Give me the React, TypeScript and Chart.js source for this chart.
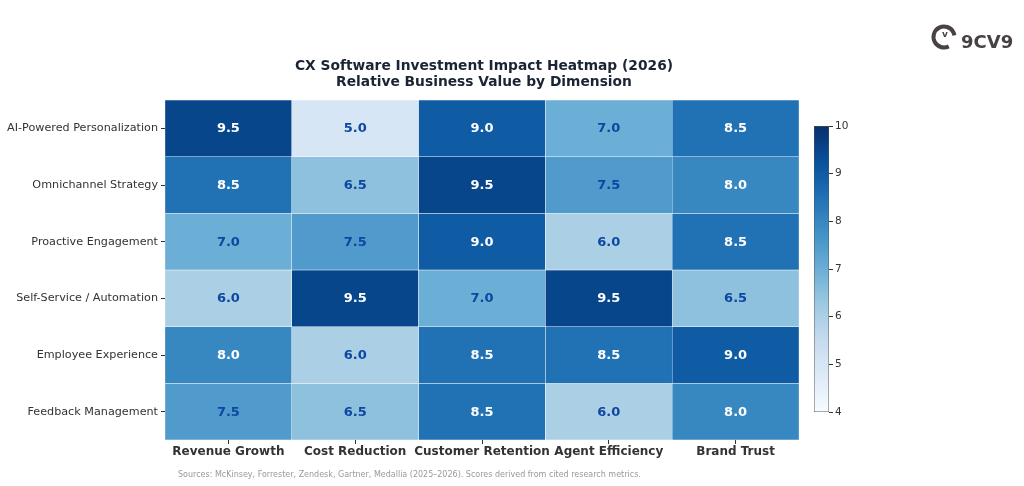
import React, { useEffect, useRef } from "react";
import { Chart, registerables } from "chart.js";

Chart.register(...registerables);

const rowLabels = [
  "AI-Powered Personalization",
  "Omnichannel Strategy",
  "Proactive Engagement",
  "Self-Service / Automation",
  "Employee Experience",
  "Feedback Management",
];
const colLabels = ["Revenue Growth", "Cost Reduction", "Customer Retention", "Agent Efficiency", "Brand Trust"];

const aiPersonalization = [9.5, 5.0, 9.0, 7.0, 8.5];
const omnichannel = [8.5, 6.5, 9.5, 7.5, 8.0];
const proactive = [7.0, 7.5, 9.0, 6.0, 8.5];
const selfService = [6.0, 9.5, 7.0, 9.5, 6.5];
const employeeExp = [8.0, 6.0, 8.5, 8.5, 9.0];
const feedbackMgmt = [7.5, 6.5, 8.5, 6.0, 8.0];
const matrix = [aiPersonalization, omnichannel, proactive, selfService, employeeExp, feedbackMgmt];

const colorbarTicks = [4, 5, 6, 7, 8, 9, 10];
const vMin = 4;
const vMax = 10;

const titleLines = ["CX Software Investment Impact Heatmap (2026)", "Relative Business Value by Dimension"];
const sourceText =
  "Sources: McKinsey, Forrester, Zendesk, Gartner, Medallia (2025–2026). Scores derived from cited research metrics.";

const BLUES = ["#f7fbff", "#deebf7", "#c6dbef", "#9ecae1", "#6baed6", "#4292c6", "#2171b5", "#08519c", "#08306b"];

function hexToRgb(h: string) {
  return [parseInt(h.slice(1, 3), 16), parseInt(h.slice(3, 5), 16), parseInt(h.slice(5, 7), 16)];
}
function blues(t: number) {
  const x = Math.max(0, Math.min(1, t)) * (BLUES.length - 1);
  const i = Math.min(BLUES.length - 2, Math.floor(x));
  const f = x - i;
  const a = hexToRgb(BLUES[i]);
  const b = hexToRgb(BLUES[i + 1]);
  const c = a.map((v, k) => Math.round(v + (b[k] - v) * f));
  return `rgb(${c[0]},${c[1]},${c[2]})`;
}
const colorFor = (v: number) => blues((v - vMin) / (vMax - vMin));

const FONT = "'DejaVu Sans', sans-serif";

const overlayPlugin = {
  id: "overlay",
  afterDatasetsDraw(chart: any) {
    const { ctx, scales } = chart;
    const xs = scales.x;
    const ys = scales.y;
    ctx.save();
    ctx.textAlign = "center";
    ctx.textBaseline = "middle";
    ctx.font = `bold 13px ${FONT}`;
    matrix.forEach((row, r) => {
      row.forEach((v, c) => {
        const x = xs.getPixelForValue(c);
        const y = ys.getPixelForValue(r + 0.5);
        ctx.fillStyle = v >= 8 ? "#ffffff" : "#0d47a1";
        ctx.fillText(v.toFixed(1), x, y + 0.5);
      });
    });
    ctx.restore();
  },
  afterDraw(chart: any) {
    const { ctx } = chart;
    ctx.save();
    ctx.textAlign = "center";
    ctx.textBaseline = "middle";
    ctx.fillStyle = "#1a2433";
    ctx.font = `bold 13.8px ${FONT}`;
    ctx.fillText(titleLines[0], 484, 66.5);
    ctx.fillText(titleLines[1], 484, 82);
    ctx.textAlign = "left";
    ctx.fillStyle = "#999999";
    ctx.font = `8px ${FONT}`;
    ctx.fillText(sourceText, 178, 475);
    // logo
    ctx.strokeStyle = "#4a4242";
    ctx.lineWidth = 4;
    ctx.beginPath();
    ctx.arc(944, 37, 10.5, Math.PI * 0.35, Math.PI * 1.95);
    ctx.stroke();
    ctx.fillStyle = "#4a4242";
    ctx.font = `bold 9px ${FONT}`;
    ctx.textAlign = "center";
    ctx.fillText("v", 945, 35);
    ctx.font = `bold 18px ${FONT}`;
    ctx.textAlign = "left";
    ctx.fillText("9CV9", 961, 43);
    ctx.restore();
  },
};

const cbarPlugin = {
  id: "cbarTitle",
  afterDraw(chart: any) {
    const { ctx, chartArea } = chart;
    ctx.save();
    ctx.translate(857, (chartArea.top + chartArea.bottom) / 2 + 2);
    ctx.rotate(-Math.PI / 2);
    ctx.textAlign = "center";
    ctx.textBaseline = "middle";
    ctx.fillStyle = "#333333";
    ctx.font = `11.5px ${FONT}`;
    ctx.fillText("Impact Score (1–10)", 0, 0);
    ctx.restore();
  },
};

export default function App() {
  const mainRef = useRef<HTMLCanvasElement>(null);
  const cbarRef = useRef<HTMLCanvasElement>(null);

  useEffect(() => {
    const main = new Chart(mainRef.current as HTMLCanvasElement, {
      type: "bar",
      data: {
        labels: colLabels,
        datasets: matrix.map((row, r) => ({
          label: rowLabels[r],
          data: row.map(() => [r, r + 1]) as any,
          backgroundColor: row.map(colorFor),
          borderColor: "rgba(255,255,255,0.9)",
          borderWidth: 0.5,
          borderSkipped: false,
          grouped: false,
          barPercentage: 1,
          categoryPercentage: 1,
        })),
      },
      options: {
        animation: false,
        responsive: false,
        maintainAspectRatio: false,
        layout: { padding: { left: 0, top: 100, right: 225, bottom: 0 } },
        plugins: { legend: { display: false }, tooltip: { enabled: false }, title: { display: false } },
        scales: {
          x: {
            type: "category",
            offset: true,
            grid: { display: true, drawOnChartArea: false, drawTicks: true, tickLength: 4, offset: false, color: "#333333" },
            border: { display: false },
            ticks: {
              color: "#333333",
              font: { family: FONT, size: 12, weight: "bold" },
              padding: 1,
              maxRotation: 0,
              autoSkip: false,
            },
            afterFit: (s: any) => {
              s.height = 46;
            },
          },
          y: {
            type: "linear",
            min: 0,
            max: 6,
            reverse: true,
            grid: { display: true, drawOnChartArea: false, drawTicks: true, tickLength: 4, color: "#333333" },
            border: { display: false },
            afterBuildTicks: (s: any) => {
              s.ticks = rowLabels.map((_, i) => ({ value: i + 0.5 }));
            },
            ticks: {
              color: "#333333",
              font: { family: FONT, size: 11.2 },
              padding: 3,
              autoSkip: false,
              callback: (_v: any, i: number) => rowLabels[i],
            },
            afterFit: (s: any) => {
              s.width = 165;
            },
          },
        },
      },
      plugins: [overlayPlugin],
    });

    const cbar = new Chart(cbarRef.current as HTMLCanvasElement, {
      type: "bar",
      data: {
        labels: ["cb"],
        datasets: [
          {
            data: [[vMin, vMax]] as any,
            backgroundColor: (c: any) => {
              const area = c.chart.chartArea;
              if (!area) return "#6baed6";
              const g = c.chart.ctx.createLinearGradient(0, area.bottom, 0, area.top);
              for (let i = 0; i <= 40; i++) g.addColorStop(i / 40, blues(i / 40));
              return g;
            },
            borderColor: "#555555",
            borderWidth: 0.8,
            borderSkipped: false,
            barPercentage: 1,
            categoryPercentage: 1,
          },
        ],
      },
      options: {
        animation: false,
        responsive: false,
        maintainAspectRatio: false,
        layout: { padding: { left: 14, top: 16, right: 165, bottom: 18 } },
        plugins: { legend: { display: false }, tooltip: { enabled: false } },
        scales: {
          x: { display: false },
          y: {
            position: "right",
            min: vMin,
            max: vMax,
            afterBuildTicks: (s: any) => {
              s.ticks = colorbarTicks.map((v) => ({ value: v }));
            },
            grid: { display: true, drawOnChartArea: false, drawTicks: true, tickLength: 4, color: "#333333" },
            border: { display: false },
            ticks: { color: "#333333", font: { family: FONT, size: 10.5 }, padding: 2 },
            afterFit: (s: any) => {
              s.width = 30;
            },
          },
        },
      },
      plugins: [cbarPlugin],
    });

    return () => {
      main.destroy();
      cbar.destroy();
    };
  }, []);

  return (
    <div style={{ position: "absolute", left: 0, top: 0, width: 1024, height: 486, background: "#ffffff" }}>
      <canvas ref={mainRef} width={1024} height={486} style={{ position: "absolute", left: 0, top: 0 }} />
      <canvas ref={cbarRef} width={224} height={320} style={{ position: "absolute", left: 800, top: 110 }} />
    </div>
  );
}
